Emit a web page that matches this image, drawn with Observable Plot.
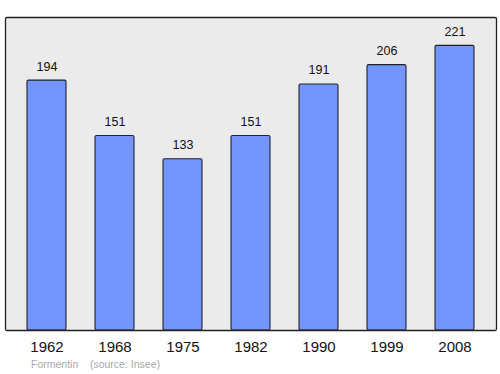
<!DOCTYPE html>
<html>
<head>
<meta charset="utf-8">
<script src="https://cdn.jsdelivr.net/npm/d3@7"></script>
<script src="https://cdn.jsdelivr.net/npm/@observablehq/plot@0.6"></script>
<style>
  body { margin: 0; background: #fff; font-family: "Liberation Sans", Arial, sans-serif; }
  #wrap { position: relative; width: 500px; height: 374px; }
  #caption { position: absolute; left: 31px; top: 358px; font-size: 10.5px; color: #a8a8a8; white-space: pre; }
</style>
</head>
<body>
<div id="wrap"><div id="chart"></div><div id="caption">Formentin    (source: Insee)</div></div>
<script>
const years = ["1962", "1968", "1975", "1982", "1990", "1999", "2008"];
const population = [194, 151, 133, 151, 191, 206, 221];

const data = years.map((y, i) => ({year: y, value: population[i]}));

const chart = Plot.plot({
  width: 500,
  height: 374,
  marginTop: 17,
  marginBottom: 44,
  marginLeft: 5,
  marginRight: 4,
  style: {fontFamily: "'Liberation Sans', Arial, sans-serif", background: "transparent"},
  x: {domain: years, paddingInner: 0.43, paddingOuter: 0.215, insetLeft: 6, insetRight: 6, label: null},
  y: {domain: [0, 243], axis: null},
  marks: [
    Plot.frame({fill: "#ebebeb", stroke: "none"}),
    Plot.barY(data, {x: "year", y: "value", fill: "#7395fd", stroke: "#222", strokeWidth: 1.1, rx: 1.5}),
    Plot.text(data, {x: "year", y: "value", text: d => String(d.value), lineAnchor: "bottom", dy: -10, fontSize: 12.5, fill: "#111"}),
    Plot.axisX({tickSize: 0, tickPadding: 11, fontSize: 15, fill: "#111", label: null}),
    Plot.frame({stroke: "#222", strokeWidth: 1.3, rx: 1.5})
  ]
});
document.getElementById("chart").appendChild(chart);
</script>
</body>
</html>
